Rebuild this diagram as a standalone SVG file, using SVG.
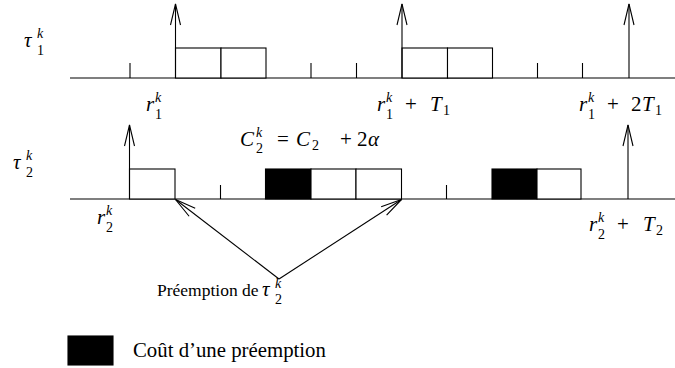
<svg xmlns="http://www.w3.org/2000/svg" width="675" height="368" viewBox="0 0 675 368">
<style>
.ax{stroke:#000;stroke-width:1.2;fill:none}
.tk{stroke:#000;stroke-width:1.1;fill:none}
.bx{stroke:#000;stroke-width:1.1;fill:#fff}
.blk{stroke:#000;stroke-width:1.1;fill:#000}
.ar{stroke:#000;stroke-width:1.1;fill:none}
.m{font-family:"Liberation Serif","DejaVu Serif",serif;font-size:21px;font-style:italic;fill:#000}
.r{font-family:"Liberation Serif","DejaVu Serif",serif;font-size:21px;fill:#000}
.si{font-family:"Liberation Serif","DejaVu Serif",serif;font-size:14px;font-style:italic;fill:#000}
.sr{font-family:"Liberation Serif","DejaVu Serif",serif;font-size:14px;fill:#000}
.t{font-family:"Liberation Serif","Times New Roman",serif;font-size:17.5px;fill:#000}
.lg{font-family:"Liberation Serif","Times New Roman",serif;font-size:20.8px;fill:#000}
</style>
<defs>
<marker id="v" markerUnits="userSpaceOnUse" markerWidth="30" markerHeight="16" viewBox="-22 -8 30 16" refX="0" refY="0" orient="auto">
<path d="M -21 -5 L 0 0 L -21 5" fill="none" stroke="#000" stroke-width="1.1"/>
</marker>
</defs>

<g id="task1">
<line class="ax" x1="70" y1="78" x2="675" y2="78"/>
<line class="tk" x1="130" y1="63" x2="130" y2="78"/>
<line class="tk" x1="311" y1="63" x2="311" y2="78"/>
<line class="tk" x1="356.5" y1="63" x2="356.5" y2="78"/>
<line class="tk" x1="537.5" y1="63" x2="537.5" y2="78"/>
<line class="tk" x1="582.5" y1="63" x2="582.5" y2="78"/>
<rect class="bx" x="175.5" y="48" width="45.5" height="30"/>
<rect class="bx" x="221" y="48" width="45" height="30"/>
<rect class="bx" x="402" y="48" width="45.5" height="30"/>
<rect class="bx" x="447.5" y="48" width="45" height="30"/>
</g>

<g id="task2">
<line class="ax" x1="70" y1="199" x2="675" y2="199"/>
<line class="tk" x1="220.5" y1="185" x2="220.5" y2="199"/>
<line class="tk" x1="446.5" y1="185" x2="446.5" y2="199"/>
<rect class="bx" x="129.5" y="169" width="45.5" height="30"/>
<rect class="blk" x="265.5" y="169" width="45.5" height="30"/>
<rect class="bx" x="311" y="169" width="45" height="30"/>
<rect class="bx" x="356" y="169" width="45.5" height="30"/>
<rect class="blk" x="492" y="169" width="45" height="30"/>
<rect class="bx" x="537" y="169" width="44" height="30"/>
</g>

<g id="connectors">
<line class="ar" x1="175.5" y1="78" x2="175.5" y2="4" marker-end="url(#v)"/>
<line class="ar" x1="402" y1="78" x2="402" y2="4" marker-end="url(#v)"/>
<line class="ar" x1="629" y1="78" x2="629" y2="4" marker-end="url(#v)"/>
<line class="ar" x1="129.5" y1="199" x2="129.5" y2="125" marker-end="url(#v)"/>
<line class="ar" x1="628" y1="199" x2="628" y2="125" marker-end="url(#v)"/>
<line class="ar" x1="279" y1="279" x2="175.5" y2="199.5" marker-end="url(#v)"/>
<line class="ar" x1="279" y1="279" x2="401.5" y2="199.5" marker-end="url(#v)"/>
</g>

<g id="labels">
<text class="m" x="24" y="47">τ</text><text class="si" x="37" y="38">k</text><text class="sr" x="37" y="55">1</text>
<text class="m" x="13" y="169">τ</text><text class="si" x="26" y="160">k</text><text class="sr" x="26" y="177">2</text>

<text class="m" x="146" y="111">r</text><text class="si" x="155" y="102">k</text><text class="sr" x="155" y="119">1</text>

<text class="m" x="377" y="111">r</text><text class="si" x="386" y="102">k</text><text class="sr" x="386" y="119">1</text>
<text class="r" x="405" y="111">+</text><text class="m" x="430" y="111">T</text><text class="sr" x="443" y="115">1</text>

<text class="m" x="579" y="111">r</text><text class="si" x="588" y="102">k</text><text class="sr" x="588" y="119">1</text>
<text class="r" x="607" y="111">+</text><text class="r" x="631" y="111">2</text><text class="m" x="642" y="111">T</text><text class="sr" x="655" y="115">1</text>

<text class="m" x="240" y="146">C</text><text class="si" x="256" y="137">k</text><text class="sr" x="256" y="153">2</text>
<text class="r" x="277" y="146">=</text><text class="m" x="296" y="146">C</text><text class="sr" x="312" y="150">2</text>
<text class="r" x="340" y="146">+</text><text class="r" x="357" y="146">2</text><text class="m" x="368" y="146">α</text>

<text class="m" x="97" y="224">r</text><text class="si" x="106" y="215">k</text><text class="sr" x="106" y="232">2</text>

<text class="m" x="589" y="231">r</text><text class="si" x="598" y="222">k</text><text class="sr" x="598" y="239">2</text>
<text class="r" x="617" y="231">+</text><text class="m" x="643" y="231">T</text><text class="sr" x="656" y="235">2</text>

<text class="t" x="157" y="296">Préemption de</text><text class="m" x="262" y="296">τ</text><text class="si" x="275" y="288">k</text><text class="sr" x="275" y="304">2</text>
</g>

<g id="legend">
<rect class="blk" x="68" y="336" width="45" height="29"/>
<text class="lg" x="133" y="357">Coût d’une préemption</text>
</g>
</svg>
